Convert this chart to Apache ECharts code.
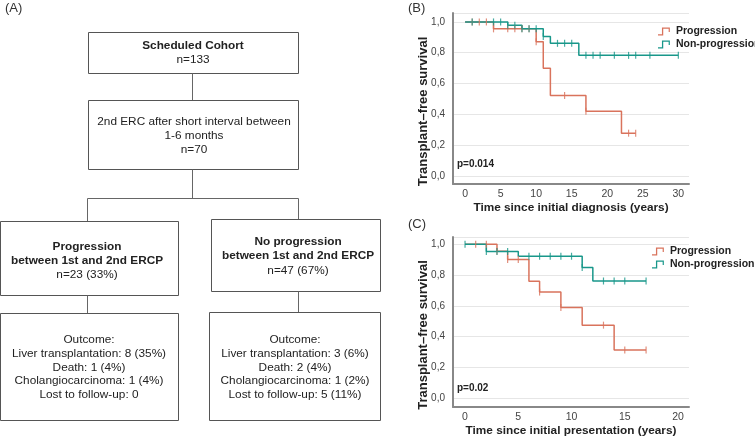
<!DOCTYPE html>
<html><head><meta charset="utf-8">
<script src="https://cdn.jsdelivr.net/npm/echarts@6/dist/echarts.min.js"></script>
<style>html,body{margin:0;padding:0;background:#fff}#c{width:755px;height:438px}</style>
</head><body><div id="c"></div>
<script>
// ---- Data (B): time since initial diagnosis ----
const bProgTimes   = [0, 4, 10, 11, 12, 17, 22, 24];
const bProgSurv    = [1.0, 0.955, 0.872, 0.70, 0.522, 0.42, 0.278, 0.278];
const bProgCens    = [1, 2, 3, 4, 6, 7, 8, 9, 10, 14, 17, 23, 24];
const bNonTimes    = [0, 6, 8, 11, 12, 16, 30];
const bNonSurv     = [1.0, 0.978, 0.955, 0.906, 0.861, 0.783, 0.783];
const bNonCens     = [1, 4, 5, 6, 7, 8, 9, 10, 11, 13, 14, 15, 17, 18, 19, 21, 23, 24, 26, 30];
// ---- Data (C): time since initial presentation ----
const cProgTimes   = [0, 3, 4, 6, 7, 9, 11, 14, 17];
const cProgSurv    = [1.0, 0.955, 0.90, 0.759, 0.689, 0.589, 0.474, 0.313, 0.313];
const cProgCens    = [1, 2, 3, 4, 5, 7, 9, 13, 15, 17];
const cNonTimes    = [0, 2, 5, 11, 12, 17];
const cNonSurv     = [1.0, 0.952, 0.922, 0.848, 0.761, 0.761];
const cNonCens     = [0, 2, 3, 4, 6, 7, 8, 9, 10, 11, 13, 14, 15, 17];
const yTicks = [0, 0.2, 0.4, 0.6, 0.8, 1.0];
const bXTicks = [0, 5, 10, 15, 20, 25, 30];
const cXTicks = [0, 5, 10, 15, 20];

const RED = '#d9735c', GREEN = '#18978a';
const FONT = '"Liberation Sans", Arial, sans-serif';

function stepData(t, s) { return t.map((v, i) => [v, s[i]]); }
function levelAt(t, s, x) { let v = s[0]; for (let i = 0; i < t.length; i++) { if (t[i] <= x) v = s[i]; } return v; }
function cens(t, s, c) { return c.map(x => [x, levelAt(t, s, x)]); }

const chart = echarts.init(document.getElementById('c'), null, {renderer: 'canvas'});

function yAx(gi, min, max) {
  return {
    type: 'value', gridIndex: gi, min: min, max: max,
    name: 'Transplant–free survival', nameLocation: 'middle', nameGap: 23, nameMoveOverlap: false,
    nameTextStyle: {fontFamily: FONT, fontWeight: 'bold', fontSize: 13, color: '#222', padding: [0, 26, 0, 0]},
    axisLine: {show: true, onZero: false, lineStyle: {color: '#888', width: 2}},
    axisTick: {show: false},
    axisLabel: {customValues: yTicks, fontFamily: FONT, fontSize: 10, color: '#444', margin: 8,
      formatter: v => v.toFixed(1).replace('.', ',')},
    splitLine: {show: true, lineStyle: {color: '#e6e6e6', width: 1}},
    axisPointer: {show: false}
  };
}
function xAx(gi, min, max, ticks, name) {
  return {
    type: 'value', gridIndex: gi, min: min, max: max,
    name: name, nameLocation: 'middle', nameGap: 18, nameMoveOverlap: false,
    nameTextStyle: {fontFamily: FONT, fontWeight: 'bold', fontSize: 11.8, color: '#222', verticalAlign: 'top'},
    axisLine: {show: true, onZero: false, lineStyle: {color: '#888', width: 2}},
    axisTick: {show: false},
    axisLabel: {customValues: ticks, fontFamily: FONT, fontSize: 10.5, color: '#444', margin: 5},
    splitLine: {show: false}
  };
}
const tick = 'path://M0,0 L1,0 L1,10 L0,10 Z';
function lineSeries(name, xi, t, s, color) {
  return {type: 'line', name: name, xAxisIndex: xi, yAxisIndex: xi, step: 'end', data: stepData(t, s),
    showSymbol: false, symbol: 'none', lineStyle: {color: color, width: 1.5}, itemStyle: {color: color},
    silent: true, z: 2};
}
function censSeries(name, xi, t, s, c, color) {
  return {type: 'scatter', name: name, xAxisIndex: xi, yAxisIndex: xi, data: cens(t, s, c),
    symbol: tick, symbolSize: [1.2, 7], itemStyle: {color: color}, silent: true, z: 3};
}
// filled outline of a small step line (legend glyph)
const legIcon = 'path://M0,6.8 L4,6.8 L4,0 L12,0 L12,4.5 L10.8,4.5 L10.8,1.3 L5.3,1.3 L5.3,8.1 L0,8.1 Z';
function legend(left, top, gi) {
  return {
    orient: 'vertical', left: left, top: top, itemGap: 2, itemWidth: 12, itemHeight: 8,
    selectedMode: false,
    textStyle: {fontFamily: FONT, fontWeight: 'bold', fontSize: 10.5, color: '#222', padding: [0, 0, 0, 1]},
    data: [
      {name: gi === 0 ? 'Progression' : 'Progression ', icon: legIcon, itemStyle: {color: RED, borderWidth: 0}},
      {name: gi === 0 ? 'Non-progression' : 'Non-progression ', icon: legIcon, itemStyle: {color: GREEN, borderWidth: 0}}
    ],
    formatter: n => n.trim()
  };
}

// Flowchart graphics
const boxStyle = {fill: '#fff', stroke: '#555', lineWidth: 1};
function box(x, y, w, h) { return {type: 'rect', shape: {x: x + 0.5, y: y + 0.5, width: w, height: h}, style: boxStyle}; }
function ln(x1, y1, x2, y2) { return {type: 'line', shape: {x1: x1 + 0.5, y1: y1 + 0.5, x2: x2 + 0.5, y2: y2 + 0.5}, style: {stroke: '#666', lineWidth: 1}}; }
function txt(x, y, s, bold) { return {type: 'text', x: x, y: y, style: {text: s, fontFamily: FONT, fontSize: 11.8, fontWeight: bold ? 'bold' : 'normal', fill: '#222', align: 'center', verticalAlign: 'middle'}}; }

const graphics = [
  {type: 'text', x: 5, y: 8, style: {text: '(A)', fontFamily: FONT, fontSize: 13, fill: '#333', verticalAlign: 'middle'}},
  {type: 'text', x: 408, y: 8, style: {text: '(B)', fontFamily: FONT, fontSize: 13, fill: '#333', verticalAlign: 'middle'}},
  {type: 'text', x: 408, y: 224, style: {text: '(C)', fontFamily: FONT, fontSize: 13, fill: '#333', verticalAlign: 'middle'}},
  box(88, 32, 210, 41), ln(192, 73, 192, 100),
  box(88, 100, 210, 69), ln(192, 169, 192, 198), ln(87, 198, 298, 198),
  ln(87, 198, 87, 221), ln(298, 198, 298, 219),
  box(0, 221, 178, 74), box(211, 219, 169, 72),
  ln(87, 295, 87, 313), ln(298, 291, 298, 312),
  box(0, 313, 178, 107), box(209, 312, 171, 108),
  txt(193, 46, 'Scheduled Cohort', true), txt(193, 60, 'n=133'),
  txt(194, 122, '2nd ERC after short interval between'), txt(194, 136, '1-6 months'), txt(194, 150, 'n=70'),
  txt(87, 247, 'Progression', true), txt(87, 261, 'between 1st and 2nd ERCP', true), txt(87, 275, 'n=23 (33%)'),
  txt(298, 242, 'No progression', true), txt(298, 256, 'between 1st and 2nd ERCP', true), txt(298, 271, 'n=47 (67%)'),
  txt(89, 340, 'Outcome:'), txt(89, 354, 'Liver transplantation: 8 (35%)'), txt(89, 368, 'Death: 1 (4%)'),
  txt(89, 381, 'Cholangiocarcinoma: 1 (4%)'), txt(89, 395, 'Lost to follow-up: 0'),
  txt(295, 340, 'Outcome:'), txt(295, 354, 'Liver transplantation: 3 (6%)'), txt(295, 368, 'Death: 2 (4%)'),
  txt(295, 381, 'Cholangiocarcinoma: 1 (2%)'), txt(295, 395, 'Lost to follow-up: 5 (11%)'),
  {type: 'text', x: 457, y: 164, style: {text: 'p=0.014', fontFamily: FONT, fontSize: 10, fontWeight: 'bold', fill: '#222', verticalAlign: 'middle'}},
  {type: 'text', x: 457, y: 388, style: {text: 'p=0.02', fontFamily: FONT, fontSize: 10, fontWeight: 'bold', fill: '#222', verticalAlign: 'middle'}}
];

chart.setOption({
  animation: false,
  backgroundColor: '#fff',
  grid: [
    {left: 453, right: 66, top: 13, height: 171},
    {left: 453, right: 66, top: 237, height: 170}
  ],
  xAxis: [xAx(0, -1.7, 31.5, bXTicks, 'Time since initial diagnosis (years)'),
          xAx(1, -1.13, 21.03, cXTicks, 'Time since initial presentation (years)')],
  yAxis: [yAx(0, -0.052, 1.058), yAx(1, -0.058, 1.047)],
  legend: [legend(653, 21, 0), legend(647, 241, 1)],
  series: [
    lineSeries('Progression', 0, bProgTimes, bProgSurv, RED),
    lineSeries('Non-progression', 0, bNonTimes, bNonSurv, GREEN),
    censSeries('Progression', 0, bProgTimes, bProgSurv, bProgCens, RED),
    censSeries('Non-progression', 0, bNonTimes, bNonSurv, bNonCens, GREEN),
    lineSeries('Progression ', 1, cProgTimes, cProgSurv, RED),
    lineSeries('Non-progression ', 1, cNonTimes, cNonSurv, GREEN),
    censSeries('Progression ', 1, cProgTimes, cProgSurv, cProgCens, RED),
    censSeries('Non-progression ', 1, cNonTimes, cNonSurv, cNonCens, GREEN)
  ],
  graphic: graphics
});
</script></body></html>
